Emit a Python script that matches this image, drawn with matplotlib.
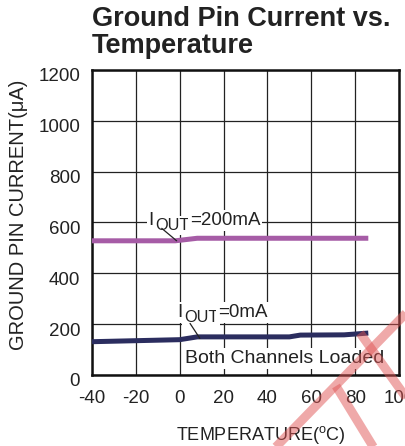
import numpy as np
import matplotlib
matplotlib.use("Agg")
import matplotlib.pyplot as plt
import matplotlib.transforms as mtransforms
from matplotlib.lines import Line2D

plt.rcParams['font.family'] = ['Liberation Sans', 'DejaVu Sans']
plt.rcParams['axes.unicode_minus'] = False

# data
temp_200ma = [-40, -2, 8, 86]
gnd_200ma = [528, 528, 538, 538]
temp_0ma = [-40, 0, 8, 50, 55, 75, 86]
gnd_0ma = [131, 139, 150, 150, 157, 158, 165]

xticks = [-40, -20, 0, 20, 40, 60, 80, 100]
yticks = [0, 200, 400, 600, 800, 1000, 1200]

magenta = '#a65ca6'
navy = '#2b2d5f'

W, H = 406, 446
fig = plt.figure(figsize=(W / 100, H / 100), dpi=100)
ax = fig.add_axes([92 / W, 1 - 375 / H, 307 / W, 305 / H])

ax.plot(temp_200ma, gnd_200ma, color=magenta, lw=3.6, solid_capstyle='butt', zorder=3)
ax.plot(temp_0ma, gnd_0ma, color=navy, lw=3.6, solid_capstyle='butt', zorder=3)

ax.set_xlim(-40, 100)
ax.set_ylim(0, 1200)
ax.set_xticks(xticks)
ax.set_yticks(yticks)
ax.grid(True, color='#222222', lw=0.9)
ax.set_axisbelow(True)
ax.tick_params(length=0, labelsize=13.5, colors='#222222')
ax.tick_params(axis='x', pad=11)
ax.tick_params(axis='y', pad=8.5)
for s in ax.spines.values():
    s.set_linewidth(1.8)
    s.set_color('#111111')

# y tick labels sit a bit below their gridlines in the original
shift = mtransforms.ScaledTranslation(0, -5 / 100, fig.dpi_scale_trans)
for lab in ax.get_yticklabels():
    lab.set_transform(lab.get_transform() + shift)

ax.set_xlabel('TEMPERATURE($^{\\mathregular{o}}$C)', fontsize=13, color='#222222')
ax.xaxis.set_label_coords(169 / 307, -49 / 305)
ax.set_ylabel('GROUND PIN CURRENT(\u03bcA)', fontsize=14.5, color='#222222')
ax.yaxis.set_label_coords(-(92 - 19) / 307, (375 - 215) / 305)
ax.yaxis.label.set_va('center')
ax.xaxis.label.set_va('top')

fig.text(92 / W, 1 - 6 / H, 'Ground Pin Current vs.\nTemperature', fontsize=19.5,
         fontweight='bold', ha='left', va='top', linespacing=1.05, color='#222222')

renderer = fig.canvas.get_renderer()
box = dict(fc='white', ec='none', pad=1.5)


def iout_label(x, y, rest):
    t1 = ax.text(x, y, 'I', fontsize=13.5, ha='left', va='baseline', bbox=box, zorder=4,
                 color='#222222')
    w1 = t1.get_window_extent(renderer).width
    tr2 = mtransforms.offset_copy(ax.transData, fig=fig, x=w1 + 1.5, y=-5, units='dots')
    t2 = ax.text(x, y, 'OUT', fontsize=11.8, ha='left', va='baseline', transform=tr2,
                 bbox=box, zorder=4, color='#222222')
    w2 = t2.get_window_extent(renderer).width
    tr3 = mtransforms.offset_copy(ax.transData, fig=fig, x=w1 + w2 + 1.5, y=0, units='dots')
    ax.text(x, y, rest, fontsize=13.5, ha='left', va='baseline', transform=tr3,
            bbox=box, zorder=4, color='#222222')


iout_label(-14.2, 590, '=200mA')
iout_label(-1.2, 229, '=0mA')
ax.annotate('', xy=(-1.4, 528), xytext=(-8.2, 577),
            arrowprops=dict(arrowstyle='-', color='#222222', lw=0.9, shrinkA=0, shrinkB=0), zorder=5)
ax.annotate('', xy=(9.2, 144), xytext=(4.7, 203),
            arrowprops=dict(arrowstyle='-', color='#222222', lw=0.9, shrinkA=0, shrinkB=0), zorder=5)
ax.text(2.4, 46, 'Both Channels Loaded', fontsize=14, ha='left', va='baseline',
        bbox=box, zorder=4, color='#222222')

# red watermark strokes at the lower right
for (x0, y0), (x1, y1) in [((415, 304), (270, 453)),
                           ((360, 333), (415, 410)),
                           ((336, 386), (377, 453))]:
    fig.add_artist(Line2D([x0 / W, x1 / W], [1 - y0 / H, 1 - y1 / H], color='#e05555',
                          alpha=0.5, lw=6.5, solid_capstyle='butt', zorder=10))

fig.savefig('out.png', dpi=100)
